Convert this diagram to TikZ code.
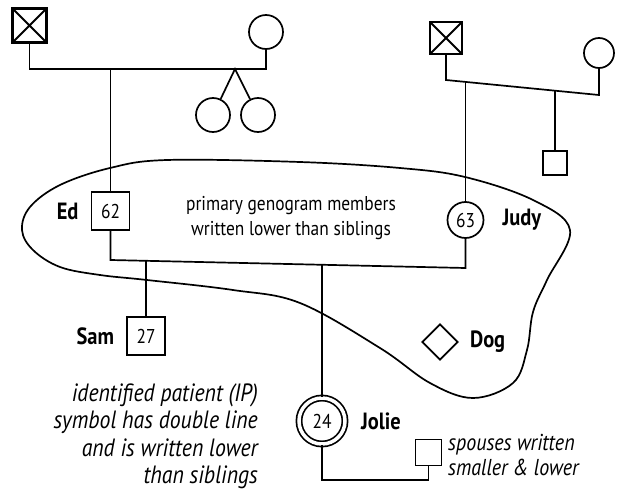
\documentclass[tikz,border=0pt]{standalone}
\usepackage{fontspec}
\setmainfont{PT Sans}[FakeStretch=0.87]
\usepackage{tikz}
\usetikzlibrary{positioning,shapes.geometric}

\begin{document}
\begin{tikzpicture}[
      x=1pt, y=-1pt,
      line width=1.7pt,
      font=\fontsize{20}{22}\selectfont,
      male/.style={draw,rectangle,inner sep=0pt,minimum size=38pt},
      female/.style={draw,circle,inner sep=0pt,minimum size=36pt},
      dead/.style={draw,rectangle,line width=2.4pt,inner sep=0pt,minimum size=32pt,
        path picture={\draw[line width=1.8pt] (path picture bounding box.north west) -- (path picture bounding box.south east)
          (path picture bounding box.north east) -- (path picture bounding box.south west);}},
      patient/.style={draw,circle,double,double distance=3.5pt,inner sep=0pt,minimum size=46pt},
      pet/.style={draw,diamond,inner sep=0pt,minimum size=36pt},
      label/.style={font=\fontsize{23.5}{25}\selectfont\bfseries},
      note/.style={font=\fontsize{20}{25}\selectfont},
      remark/.style={font=\fontsize{25}{27.5}\selectfont\itshape}
    ]
    \useasboundingbox (0,0) rectangle (625,493);

    % Ed's parents and twin sisters
    \node (gfa1) [dead, minimum size=34pt] at (29.5,25.5) {};
    \node (gma1) [female, minimum size=34pt] at (266,32)  {};
    \node (twin1)[female, minimum size=34pt] at (213,115) {};
    \node (twin2)[female, minimum size=34pt] at (258,115) {};
    \coordinate (m1r) at (266,69);
    \coordinate (twa) at (235,69);
    \draw (gfa1.south) |- (m1r) -- (gma1.south);
    \draw (twin1) -- (twa) -- (twin2);

    % Judy's parents and brother
    \node (gfa2) [dead] at (446,38) {};
    \node (gma2) [female, minimum size=30pt] at (599,53) {};
    \node (uncle)[male, minimum size=24pt] at (555,163) {};
    \coordinate (m2l) at (446,80);
    \coordinate (m2r) at (599,95);
    \coordinate (m2j) at (465.5,82);
    \coordinate (m2u) at (555,90.5);
    \draw (gfa2.south) -- (m2l) -- (m2r) -- (gma2.south);
    \draw (m2u) -- (uncle);

    % Primary couple
    \node (ed)   [male]   at (110.5,211) {62};
    \node (judy) [female] at (465.5,220) {63};
    \draw (ed.north) -- (ed.north |- m1r);
    \draw (m2j) -- (judy);
    \coordinate (m3l) at (110.5,260);
    \coordinate (m3r) at (465.5,268);
    \draw (ed.south) -- (m3l) -- (m3r) -- (judy.south);

    % Children
    \node (sam)   [male]    at (146,336) {27};
    \node (jolie) [patient] at (322,421) {24};
    \coordinate (m3s) at (146,261);
    \coordinate (m3j) at (322,264.8);
    \draw (m3s) -- (sam);
    \draw (m3j) -- (jolie);

    % Jolie's spouse
    \node (spouse) [male, minimum size=26pt] at (428.5,452.5) {};
    \coordinate (m4) at (428.5,480);
    \draw (jolie.south) |- (m4) -- (spouse.south);

    % Pet
    \node (dog) [pet] at (440,342) {};

    % Household boundary
    \draw plot[smooth cycle, tension=0.6] coordinates {
      (110,168) (167,160) (300,162) (400,168) (465,177) (533,200) (570,230)
      (547,280) (533,312) (527,350) (513,383) (473,398) (430,383) (380,348)
      (300,303) (233,290) (147,280) (100,275) (60,267) (33,250) (22,230)
      (30,207) (60,185)};

    % Labels
    \node[label, left=8pt of ed]     {Ed};
    \node[label, right=14pt of judy] {Judy};
    \node[label, left=8pt of sam]    {Sam};
    \node[label, right=11pt of jolie]{Jolie};
    \node[label, right=7pt of dog]   {Dog};
    \node[note, align=center] (notemid) at (291,218)
      {primary genogram members\\written lower than siblings};
    \node[remark, align=right, anchor=east] (noteip) at (262,436)
      {identified patient (IP)\\symbol has double line\\and is written lower\\than siblings};
    \node[remark, align=left, anchor=west, font=\fontsize{23}{25}\selectfont\itshape] (notesp) at (444,455)
      {spouses written\\smaller \& lower};
  \end{tikzpicture}
\end{document}
